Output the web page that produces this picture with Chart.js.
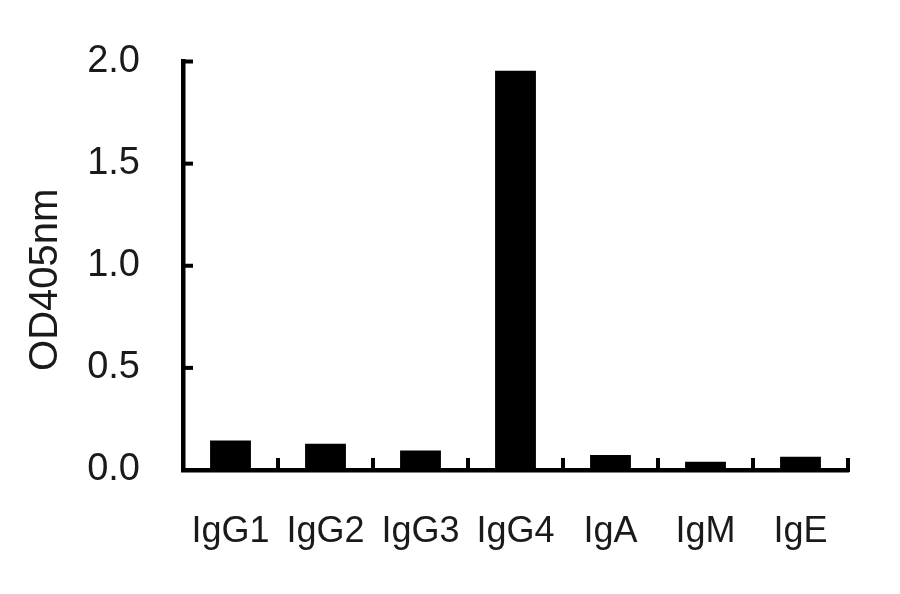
<!DOCTYPE html>
<html>
<head>
<meta charset="utf-8">
<script src="https://cdn.jsdelivr.net/npm/chart.js@4/dist/chart.umd.min.js"></script>
<style>
  html, body { margin: 0; padding: 0; background: #fff; }
  #c { display: block; }
</style>
</head>
<body>
<canvas id="c" width="900" height="594"></canvas>
<script>
const categories = ['IgG1', 'IgG2', 'IgG3', 'IgG4', 'IgA', 'IgM', 'IgE'];
const odValues = [0.145, 0.128, 0.095, 1.955, 0.074, 0.04, 0.065];
const yTickValues = [0, 0.5, 1.0, 1.5, 2.0];
const yTickLabels = ['0.0', '0.5', '1.0', '1.5', '2.0'];
const yTitle = 'OD405nm';

const FONT = '"Liberation Sans", Arial, Helvetica, sans-serif';

const innerTicks = {
  id: 'innerTicks',
  afterDraw(chart) {
    const { ctx, scales: { x, y }, chartArea: a } = chart;
    ctx.save();
    ctx.strokeStyle = '#000';
    ctx.lineWidth = 4;
    ctx.lineCap = 'butt';
    for (let i = 0; i < categories.length; i++) {
      const px = x.getPixelForValue(i + 0.5);
      ctx.beginPath();
      ctx.moveTo(px, a.bottom + 2);
      ctx.lineTo(px, a.bottom - 12);
      ctx.stroke();
    }
    for (const v of yTickValues) {
      if (v === 0) continue;
      const py = y.getPixelForValue(v);
      ctx.beginPath();
      ctx.moveTo(a.left - 2, py);
      ctx.lineTo(a.left + 10, py);
      ctx.stroke();
    }
    ctx.restore();
  }
};

new Chart(document.getElementById('c'), {
  type: 'bar',
  data: {
    labels: categories,
    datasets: [{
      data: odValues,
      backgroundColor: '#000',
      borderWidth: 0,
      categoryPercentage: 1,
      barPercentage: 0.43
    }]
  },
  options: {
    responsive: false,
    devicePixelRatio: 1,
    animation: false,
    layout: { padding: { top: 61.5, right: 52, bottom: 0, left: 0 } },
    plugins: { legend: { display: false }, tooltip: { enabled: false } },
    scales: {
      x: {
        type: 'category',
        offset: true,
        grid: { display: true, drawOnChartArea: false, drawTicks: false, offset: true },
        border: { display: true, color: '#000', width: 4.5 },
        ticks: {
          color: '#1a1a1a',
          padding: 40,
          maxRotation: 0,
          autoSkip: false,
          font: { family: FONT, size: 36 }
        },
        afterFit(s) { s.height = 124; }
      },
      y: {
        min: 0,
        max: 2,
        grid: { display: true, drawOnChartArea: false, drawTicks: true, tickLength: 33, tickColor: 'rgba(0,0,0,0)' },
        border: { display: true, color: '#000', width: 4.5 },
        afterBuildTicks(s) { s.ticks = yTickValues.map(v => ({ value: v })); },
        ticks: {
          color: '#1a1a1a',
          padding: 10,
          font: { family: FONT, size: 38 },
          callback: (v) => yTickLabels[yTickValues.indexOf(v)]
        },
        title: {
          display: true,
          text: yTitle,
          color: '#1a1a1a',
          font: { family: FONT, size: 40 },
          padding: { top: 22, bottom: 0 }
        },
        afterFit(s) {
          s.width = 183;
          if (!s._titleShifted) {
            const orig = s.drawTitle;
            s.drawTitle = function () {
              this.ctx.save();
              this.ctx.translate(0, 14);
              orig.apply(this, arguments);
              this.ctx.restore();
            };
            s._titleShifted = true;
          }
        }
      }
    }
  },
  plugins: [innerTicks]
});
</script>
</body>
</html>
